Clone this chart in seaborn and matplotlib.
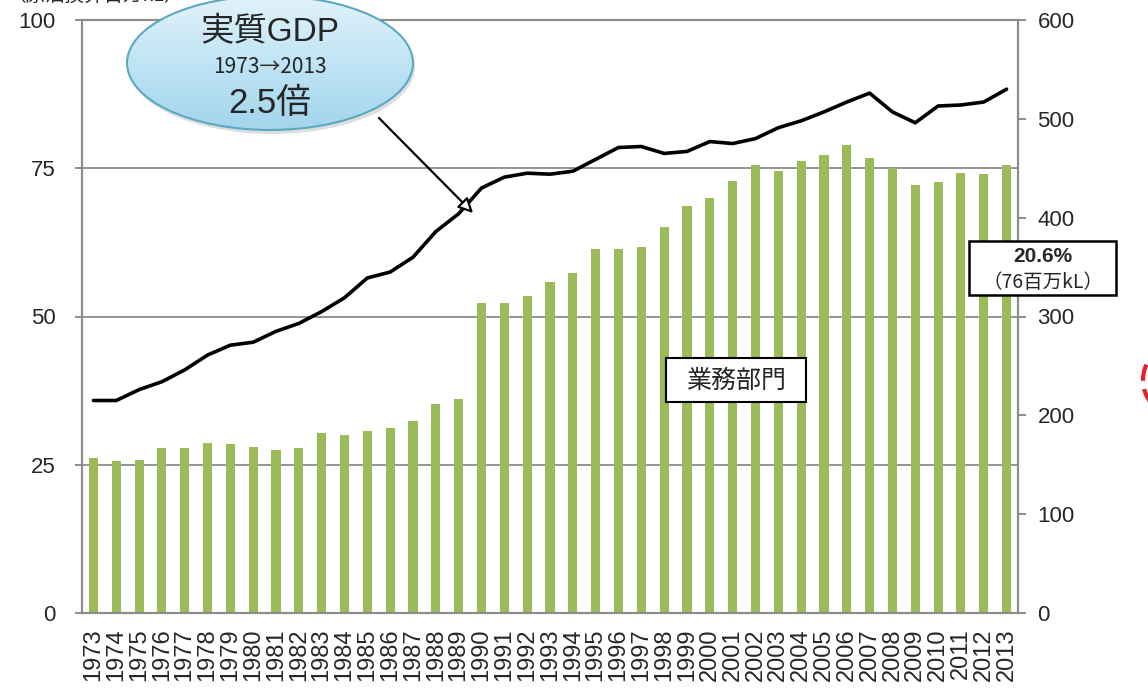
import numpy as np
import pandas as pd
import matplotlib
matplotlib.use("Agg")
import matplotlib.pyplot as plt
import seaborn as sns
from matplotlib.patches import Ellipse, Rectangle, Arc
from matplotlib.colors import LinearSegmentedColormap

# data
years = [str(y) for y in range(1973, 2014)]
energy = [26.2, 25.7, 25.8, 27.8, 27.9, 28.7, 28.5, 28.0, 27.5, 27.9,
          30.4, 30.1, 30.7, 31.2, 32.4, 35.3, 36.1, 52.2, 52.2, 53.4,
          55.9, 57.4, 61.3, 61.3, 61.7, 65.1, 68.7, 70.0, 72.9, 75.6,
          74.5, 76.3, 77.2, 78.9, 76.8, 75.0, 72.1, 72.6, 74.2, 74.1, 75.5]
gdp = [215, 215, 226, 234, 246, 261, 271, 274, 285, 293,
       305, 319, 339, 345, 360, 386, 404, 430, 441, 445,
       444, 447, 459, 471, 472, 465, 467, 477, 475, 480,
       491, 498, 507, 517, 526, 507, 496, 513, 514, 517, 530]
left_ticks = [0, 25, 50, 75, 100]
right_ticks = [0, 100, 200, 300, 400, 500, 600]

sns.set_style("white")
plt.rcParams['font.family'] = ['Liberation Sans', 'Noto Sans CJK JP', 'DejaVu Sans']
JP = ['Noto Sans CJK JP', 'DejaVu Sans']

GRAY = '#8c8c8c'
TXT = '#262626'

fig = plt.figure(figsize=(11.48, 6.88), dpi=100)
ax = fig.add_axes([82/1148, 75/688, (1018-82)/1148, (613-20)/688])

df = pd.DataFrame({'year': years, 'energy': energy})
sns.barplot(data=df, x='year', y='energy', color='#9bbb59', width=0.4,
            saturation=1, linewidth=0, ax=ax)
n = len(years)
ax.set_xlim(-0.5, n - 0.5)
ax.set_ylim(0, 100)
ax.set_yticks(left_ticks)
ax.set_xticks(range(n))
ax.set_xticklabels(years, rotation=90, va='top')
ax.set_xticks(np.arange(-0.5, n, 1), minor=True)
ax.set_xlabel('')
ax.set_ylabel('')
ax.yaxis.grid(True, color=GRAY, lw=1.3)
ax.set_axisbelow(True)
ax.tick_params(axis='x', which='major', length=0, pad=11, labelsize=17, labelcolor=TXT)
ax.tick_params(axis='x', which='minor', length=6, width=1.4, color=GRAY)
ax.tick_params(axis='y', length=5, width=1.4, color=GRAY, pad=14, labelsize=16, labelcolor=TXT)
for s in ax.spines.values():
    s.set_color(GRAY)
    s.set_linewidth(1.5)

ax2 = ax.twinx()
sns.lineplot(x=np.arange(n), y=gdp, color='black', lw=2.6, ax=ax2)
ax2.set_ylim(0, 600)
ax2.set_yticks(right_ticks)
ax2.set_xlim(-0.5, n - 0.5)
ax2.tick_params(axis='y', length=6, width=1.4, color=GRAY, pad=8, labelsize=16, labelcolor=TXT)
ax2.grid(False)
for s in ax2.spines.values():
    s.set_color(GRAY)
    s.set_linewidth(1.5)

# overlay in pixel coordinates for the annotations
ov = fig.add_axes([0, 0, 1, 1], zorder=5)
ov.set_xlim(0, 1148)
ov.set_ylim(688, 0)
ov.axis('off')
ov.patch.set_alpha(0)

# unit label, cut off at the top edge as in the source
ov.text(6, 6, '（原油換算百万kL）', fontsize=14, color=TXT, va='bottom', ha='left', family=JP)

# shadow + gradient ellipse
ov.add_patch(Ellipse((272, 67), 286, 134, color='#c8c8c8', alpha=0.6, lw=0))
ell = Ellipse((270, 63), 286, 134, facecolor='none', edgecolor='#5aa9c4', lw=1.5)
ov.add_patch(ell)
cmap = LinearSegmentedColormap.from_list('sky', ['#e2f3fb', '#bfe4f4', '#a3d5ec'])
grad = np.linspace(0, 1, 256).reshape(-1, 1)
im = ov.imshow(grad, cmap=cmap, extent=[127, 413, 130, -4], aspect='auto', zorder=1)
im.set_clip_path(ell)
ell.set_zorder(2)
ov.set_xlim(0, 1148)
ov.set_ylim(688, 0)

ov.text(270, 33, '実質GDP', fontsize=24, ha='center', va='center', color=TXT, zorder=3)
ov.text(270, 67, '1973→2013', fontsize=15, ha='center', va='center', color=TXT, zorder=3, family=JP)
ov.text(270, 103, '2.5倍', fontsize=25, ha='center', va='center', color=TXT, zorder=3)

ov.annotate('', xy=(475, 215), xytext=(377, 116),
            arrowprops=dict(arrowstyle='-|>', color='black', fc='white', lw=1.6,
                            mutation_scale=22), zorder=3)

# 業務部門 box
ov.add_patch(Rectangle((666, 358), 140, 44, facecolor='white', edgecolor='black', lw=1.5, zorder=3))
ov.text(736, 381, '業務部門', fontsize=18, ha='center', va='center', color=TXT, zorder=4)

# share box
ov.add_patch(Rectangle((969, 241), 147, 54, facecolor='white', edgecolor='black', lw=1.8, zorder=3))
ov.text(1043, 257, '20.6%', fontsize=15, fontweight='bold', ha='center', va='center', color=TXT, zorder=4)
ov.text(1043, 282, '（76百万kL）', fontsize=14, ha='center', va='center', color=TXT, zorder=4, family=JP)

# clipped red dashed circle at right edge
ov.add_patch(Arc((1180, 380), 74, 74, theta1=140, theta2=220, color='#e8202a', lw=3,
                 linestyle=(0, (4, 2)), zorder=3))

fig.savefig('out.png', dpi=100)
